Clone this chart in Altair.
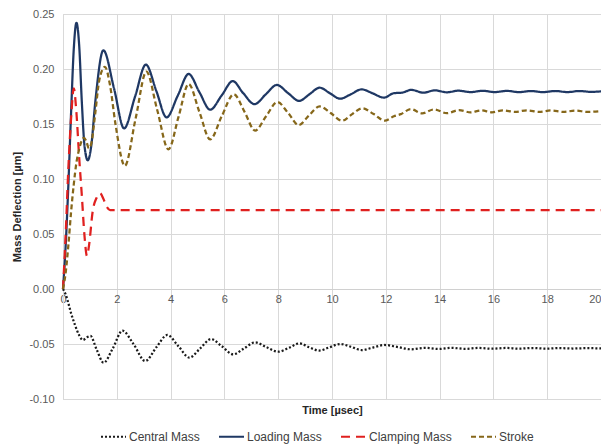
import altair as alt
import pandas as pd

# ---- data ----
series_names = ["Central Mass", "Loading Mass", "Clamping Mass", "Stroke"]

central_t = [0, 0.1, 0.2, 0.3, 0.45, 0.6, 0.74, 0.88, 1.02, 1.25, 1.51, 1.85, 2.21, 2.62, 3.06, 3.47, 3.88,
             4.29, 4.70, 5.1, 5.50, 5.9, 6.33, 6.73, 7.14, 7.57, 8.0, 8.4, 8.79, 9.15, 9.52, 9.9, 10.31,
             10.7, 11.1, 11.55, 11.96, 12.45, 12.93, 13.45, 13.95, 14.45, 14.95, 15.45, 15.95, 16.45,
             16.95, 17.45, 17.95, 18.45, 18.95, 19.45, 20]
central_v = [0, -0.005, -0.013, -0.022, -0.033, -0.042, -0.0464, -0.044, -0.0427, -0.055, -0.067, -0.054,
             -0.0379, -0.05, -0.0655, -0.053, -0.0418, -0.052, -0.0624, -0.054, -0.0455, -0.052, -0.0594,
             -0.054, -0.0485, -0.053, -0.057, -0.0535, -0.0494, -0.053, -0.056, -0.053, -0.050, -0.0525,
             -0.0555, -0.053, -0.0509, -0.0528, -0.0548, -0.0535, -0.0545, -0.0535, -0.0544, -0.0536,
             -0.0543, -0.0536, -0.0542, -0.0537, -0.0542, -0.0537, -0.0541, -0.0538, -0.054]

loading_t = [0, 0.1, 0.2, 0.3, 0.4, 0.5, 0.6, 0.7, 0.8, 0.92, 1.05, 1.2, 1.5, 1.9, 2.27, 2.68, 3.08, 3.47,
             3.85, 4.27, 4.67, 5.07, 5.47, 5.9, 6.31, 6.7, 7.12, 7.54, 7.95, 8.37, 8.78, 9.16, 9.54, 9.92,
             10.3, 10.7, 11.1, 11.5, 11.93, 12.3, 12.6, 12.95, 13.4, 13.82, 14.27, 14.7, 15.15, 15.6,
             16.05, 16.5, 16.95, 17.4, 17.85, 18.3, 18.75, 19.2, 19.65, 20]
loading_v = [0, 0.04, 0.095, 0.16, 0.218, 0.242, 0.222, 0.17, 0.13, 0.117, 0.13, 0.17, 0.217, 0.182, 0.146,
             0.175, 0.204, 0.18, 0.156, 0.176, 0.1955, 0.179, 0.163, 0.176, 0.189, 0.178, 0.168, 0.177,
             0.1855, 0.178, 0.171, 0.177, 0.183, 0.178, 0.173, 0.177, 0.1815, 0.178, 0.174, 0.178, 0.1785,
             0.181, 0.1785, 0.1806, 0.1788, 0.1803, 0.179, 0.1802, 0.179, 0.1801, 0.179, 0.18, 0.179, 0.18,
             0.179, 0.18, 0.1792, 0.1797]

clamping_t = [0, 0.1, 0.2, 0.3, 0.4, 0.5, 0.6, 0.7, 0.8, 0.89, 0.97, 1.1, 1.25, 1.38, 1.5, 1.62, 1.75, 20]
clamping_v = [0, 0.05, 0.11, 0.155, 0.1824, 0.16, 0.12, 0.085, 0.048, 0.030, 0.04, 0.07, 0.083, 0.087,
              0.082, 0.075, 0.0718, 0.0718]

stroke_t = [0, 0.1, 0.2, 0.3, 0.4, 0.5, 0.6, 0.7, 0.78, 0.87, 0.96, 1.05, 1.2, 1.35, 1.56, 1.75, 1.95, 2.3,
            2.7, 3.1, 3.5, 3.92, 4.3, 4.67, 5.07, 5.47, 5.9, 6.35, 6.75, 7.14, 7.55, 7.97, 8.37, 8.76,
            9.15, 9.54, 9.95, 10.37, 10.75, 11.13, 11.55, 11.96, 12.3, 12.56, 12.93, 13.35, 13.8, 14.27,
            14.72, 15.15, 15.55, 15.95, 16.35, 16.8, 17.25, 17.7, 18.15, 18.6, 19.05, 19.5, 20]
stroke_v = [0, 0.015, 0.04, 0.07, 0.095, 0.115, 0.127, 0.135, 0.1375, 0.134, 0.128, 0.132, 0.16, 0.19,
            0.202, 0.185, 0.15, 0.112, 0.155, 0.1976, 0.163, 0.127, 0.157, 0.1864, 0.161, 0.136, 0.157,
            0.177, 0.161, 0.144, 0.157, 0.170, 0.16, 0.149, 0.158, 0.166, 0.16, 0.153, 0.159, 0.1643,
            0.159, 0.153, 0.157, 0.159, 0.1635, 0.1597, 0.1633, 0.1598, 0.1627, 0.1606, 0.1624, 0.1606,
            0.1625, 0.161, 0.1624, 0.161, 0.1623, 0.161, 0.1622, 0.161, 0.1618]

colors = ["#1a1a1a", "#1f3864", "#e0201f", "#86671a"]
dashes = [[2, 2], [1, 0], [9, 6], [5, 3]]

rows = []
for name, ts, vs in [("Central Mass", central_t, central_v), ("Loading Mass", loading_t, loading_v),
                     ("Clamping Mass", clamping_t, clamping_v), ("Stroke", stroke_t, stroke_v)]:
    for t, v in zip(ts, vs):
        rows.append({"series": name, "t": t, "v": v})
df = pd.DataFrame(rows)

font = "Liberation Sans"
W, H = 538, 385
zero_offset = -round(H * 0.10 / 0.35, 1)

base = alt.Chart(df).mark_line(interpolate="monotone", strokeWidth=2.25).encode(
    x=alt.X("t:Q", scale=alt.Scale(domain=[0, 20], nice=False, zero=False),
            axis=alt.Axis(title="Time [µsec]", values=list(range(0, 21, 2)), offset=zero_offset,
                          grid=True, gridColor="#d9d9d9", ticks=False, domainColor="#d0d0d0",
                          labelFont=font, labelFontSize=11, labelColor="#595959", labelPadding=4,
                          labelAlign={"condition": {"test": "datum.value == 20", "value": "right"},
                                      "value": "center"},
                          titleFont=font, titleFontSize=11, titleFontWeight="bold", titleColor="#262626",
                          titleY=121, titleBaseline="middle", labelFlush=False)),
    y=alt.Y("v:Q", scale=alt.Scale(domain=[-0.10, 0.25], nice=False, zero=False),
            axis=alt.Axis(title="Mass Deflection [µm]", values=[-0.10, -0.05, 0, 0.05, 0.10, 0.15, 0.20, 0.25],
                          labelExpr="replace(format(datum.value, '.2f'), '\u2212', '-')",
                          grid=True, gridColor="#d9d9d9", ticks=False, domainColor="#d9d9d9",
                          labelFont=font, labelFontSize=11, labelColor="#595959", labelPadding=9,
                          titleFont=font, titleFontSize=11, titleFontWeight="bold", titleColor="#262626",
                          titlePadding=6)),
    color=alt.Color("series:N", scale=alt.Scale(domain=series_names, range=colors),
                    legend=alt.Legend(title=None, orient="none", direction="horizontal", columns=4,
                                      legendX=37, legendY=409, symbolType="stroke", symbolSize=625,
                                      symbolStrokeWidth=2, labelFont=font, labelFontSize=12,
                                      labelColor="#404040", labelOffset=2, columnPadding=15, padding=0)),
    strokeDash=alt.StrokeDash("series:N", scale=alt.Scale(domain=series_names, range=dashes), legend=None),
)

layers = [base.transform_filter(alt.datum.series == n) for n in series_names]

chart = alt.layer(*layers).properties(
    width=W, height=H,
    autosize=alt.AutoSizeParams(type="none"),
    padding={"left": 55, "top": 6, "right": 0, "bottom": 46},
).configure_view(stroke=None).configure(background="white")

chart.save("out.html", embed_options={"renderer": "svg", "actions": False})
